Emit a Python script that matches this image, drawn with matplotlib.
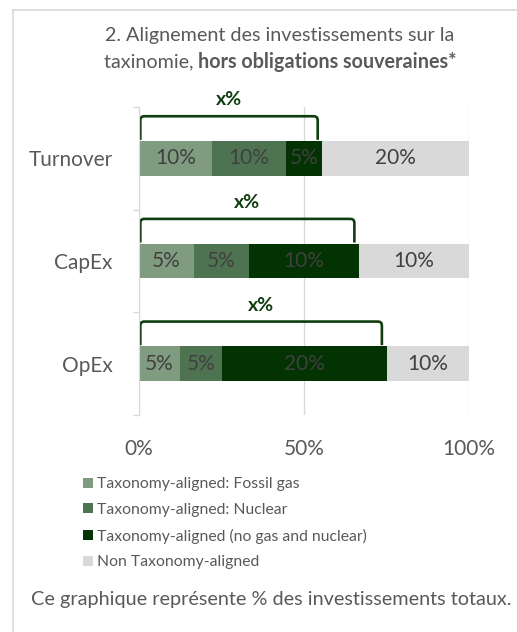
import numpy as np
import matplotlib
matplotlib.use("Agg")
import matplotlib.pyplot as plt
from matplotlib.path import Path
from matplotlib.patches import PathPatch
from matplotlib.lines import Line2D

plt.rcParams['font.family'] = ['Lato', 'DejaVu Sans']

categories = ["Turnover", "CapEx", "OpEx"]
series_names = [
    "Taxonomy-aligned: Fossil gas",
    "Taxonomy-aligned: Nuclear",
    "Taxonomy-aligned (no gas and nuclear)",
    "Non Taxonomy-aligned",
]
fossil_gas = [10, 5, 5]
nuclear = [10, 5, 5]
aligned = [5, 10, 20]
non_aligned = [20, 10, 10]
bracket_labels = ["x%", "x%", "x%"]
tick_labels = ["0%", "50%", "100%"]

colors = ["#7f9b80", "#4d7350", "#033303", "#d9d9d9"]
text_grey = "#595959"
bracket_green = "#0f3d0f"

fig = plt.figure(figsize=(5.17, 6.32), dpi=100)
ax = fig.add_axes([139 / 517, 1 - 415 / 632, 330 / 517, 308 / 632])

values = np.array([fossil_gas, nuclear, aligned, non_aligned], dtype=float)
shares = values / values.sum(axis=0) * 100
y = np.arange(len(categories))

left = np.zeros(len(categories))
for name, vals, share, col in zip(series_names, values, shares, colors):
    bars = ax.barh(y, share, left=left, height=0.34, color=col, label=name, zorder=3)
    ax.bar_label(bars, labels=[f"{v:.0f}%" for v in vals], label_type="center",
                 color="#404040", fontsize=15)
    left += share

# brackets over the taxonomy-aligned part of each bar
aligned_end = shares[:3].sum(axis=0)
rx, ry = 1.2, 0.04
for yi, end, lab in zip(y, aligned_end, bracket_labels):
    x0, x1 = 0.4, end - 1.4
    top, bot = yi - 0.41, yi - 0.18
    verts = [(x0, bot), (x0, top + ry), (x0, top), (x0 + rx, top),
             (x1 - rx, top), (x1, top), (x1, top + ry), (x1, bot)]
    codes = [Path.MOVETO, Path.LINETO, Path.CURVE3, Path.CURVE3,
             Path.LINETO, Path.CURVE3, Path.CURVE3, Path.LINETO]
    ax.add_patch(PathPatch(Path(verts, codes), fill=False, edgecolor=bracket_green,
                           lw=1.9, clip_on=False, zorder=4))
    ax.text((x0 + x1) / 2, yi - 0.57, lab, ha="center", va="center",
            fontsize=14, fontweight="bold", color=bracket_green, clip_on=False)

ax.set_xlim(0, 100)
ax.set_ylim(2.5, -0.5)
ax.set_yticks(y)
ax.set_yticklabels(categories, fontsize=15, color=text_grey)
ax.set_yticks([-0.5, 0.5, 1.5, 2.5], minor=True)
ax.tick_params(axis="y", which="major", length=0, pad=19)
ax.tick_params(axis="y", which="minor", length=4, color="#d9d9d9", width=1)
ax.set_xticks([0, 50, 100])
ax.set_xticklabels(tick_labels, fontsize=15, color=text_grey)
ax.tick_params(axis="x", length=0, pad=17)
ax.grid(axis="x", color="#d9d9d9", lw=1, zorder=0)
for side in ["top", "right", "bottom"]:
    ax.spines[side].set_visible(False)
ax.spines["left"].set_color("#d9d9d9")
ax.spines["left"].set_zorder(5)

# title: second line mixes regular and bold text
title_size = 14.2
fig.text(280 / 517, 1 - 35 / 632, "2. Alignement des investissements sur la",
         ha="center", va="center", fontsize=title_size, color=text_grey)
part1 = fig.text(0, 1 - 62 / 632, "taxinomie, ", ha="left", va="center",
                 fontsize=title_size, color=text_grey)
part2 = fig.text(0, 1 - 62 / 632, "hors obligations souveraines*", ha="left",
                 va="center", fontsize=title_size, fontweight="bold", color=text_grey)
renderer = fig.canvas.get_renderer()
w1 = part1.get_window_extent(renderer).width
w2 = part2.get_window_extent(renderer).width
start = 280 - (w1 + w2) / 2
part1.set_x(start / 517)
part2.set_x((start + w1) / 517)

leg = fig.legend(loc="upper left", bbox_to_anchor=(77 / 517, 1 - 471 / 632),
                 frameon=False, fontsize=11.3, handlelength=0.6, handleheight=0.6,
                 handletextpad=0.3, labelspacing=0.74, borderaxespad=0)
for t in leg.get_texts():
    t.set_color(text_grey)

fig.text(271 / 517, 1 - 599 / 632,
         "Ce graphique représente % des investissements totaux.",
         ha="center", va="center", fontsize=14.3, color=text_grey)

# outer frame (left and top edges)
fig.add_artist(Line2D([12.5 / 517, 12.5 / 517], [0, 1 - 9.5 / 632],
                      transform=fig.transFigure, color="#d9d9d9", lw=1.2))
fig.add_artist(Line2D([12.5 / 517, 1], [1 - 9.5 / 632, 1 - 9.5 / 632],
                      transform=fig.transFigure, color="#d9d9d9", lw=1.2))

fig.savefig("out.png", dpi=100)
